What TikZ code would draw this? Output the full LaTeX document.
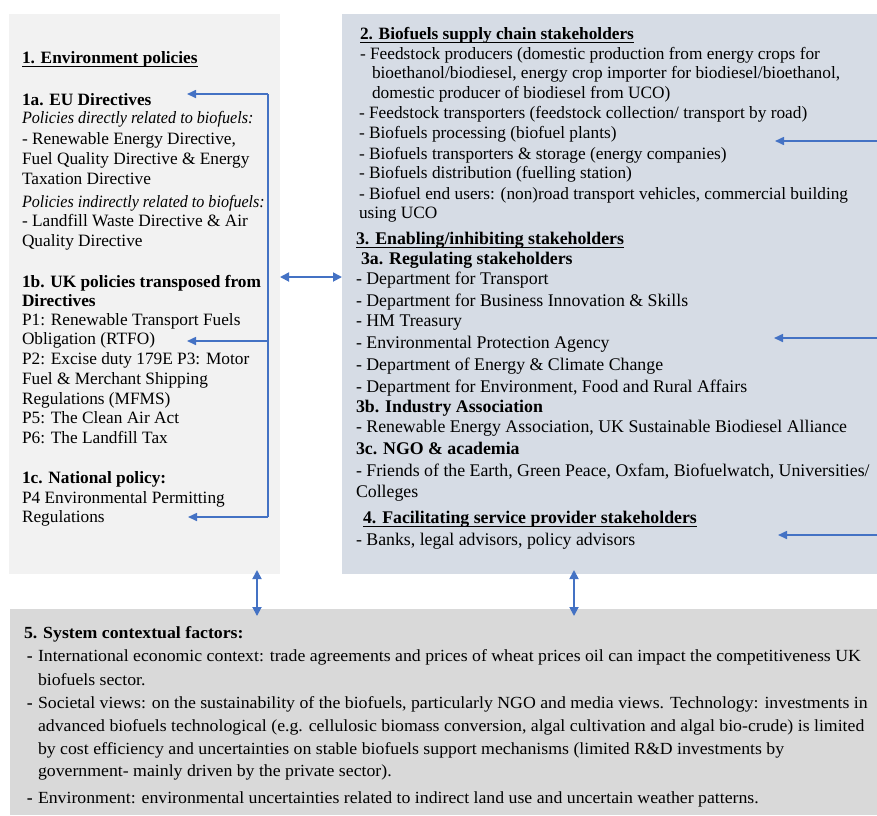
\documentclass[tikz,border=0pt]{standalone}
\usepackage{fontspec}
\setmainfont{Liberation Serif}
\newfontfamily\botfont{Liberation Serif}[FakeStretch=1.045]
\usetikzlibrary{arrows.meta,calc}
\definecolor{boxA}{HTML}{F2F2F2}
\definecolor{boxB}{HTML}{D6DCE5}
\definecolor{boxC}{HTML}{D9D9D9}
\definecolor{arr}{HTML}{4472C4}
\begin{document}
\begin{tikzpicture}[x=1pt,y=-1pt,
  panel/.style={anchor=north west,inner sep=0pt,outer sep=0pt,draw=none},
  txt/.style={anchor=base west,inner sep=0pt,outer sep=0pt,font=\fontsize{17.3}{20}\selectfont},
  txtl/.style={txt,font=\fontsize{17.8}{20}\selectfont},
  btxt/.style={anchor=base west,inner sep=0pt,outer sep=0pt,font=\botfont\fontsize{17}{20}\selectfont},
  ul/.style={line width=0.9pt,black},
  link/.style={draw=arr,line width=1.6pt,-{Triangle[length=9pt,width=8pt]}},
  dlink/.style={draw=arr,line width=1.8pt,{Triangle[length=9pt,width=9pt]}-{Triangle[length=9pt,width=9pt]}},
  brace/.style={draw=arr,line width=1.6pt}]
\useasboundingbox (0,0) rectangle (877,815);
% panels
\node[panel,fill=boxA,minimum width=271pt,minimum height=560pt] (box1) at (9,14) {};
\node[panel,fill=boxB,minimum width=535pt,minimum height=560pt] (box2) at (342,14) {};
\node[panel,fill=boxC,minimum width=867pt,minimum height=206pt] (box5) at (10,609) {};
% left panel text
\foreach \ty/\tx [count=\i] in {
  63/{\textbf{1. Environment policies}},
  105/{\textbf{1a. EU Directives}},
  123/{\scalebox{0.935}[1]{\textit{Policies directly related to biofuels:}}},
  144/{- Renewable Energy Directive,},
  164/{Fuel Quality Directive \& Energy},
  184/{Taxation Directive},
  207/{\scalebox{0.93}[1]{\textit{Policies indirectly related to biofuels:}}},
  226/{- Landfill Waste Directive \& Air},
  246/{Quality Directive},
  287/{\textbf{1b. UK policies transposed from}},
  306/{\textbf{Directives}},
  325/{P1: Renewable Transport Fuels},
  344/{Obligation (RTFO)},
  364/{P2: Excise duty 179E P3: Motor},
  384/{Fuel \& Merchant Shipping},
  404/{Regulations (MFMS)},
  423/{P5: The Clean Air Act},
  443/{P6: The Landfill Tax},
  483/{\textbf{1c. National policy:}},
  503/{P4 Environmental Permitting},
  522/{Regulations}}
  {\node[txt] (L\i) at (22,\ty) {\tx};}
\draw[ul] ([yshift=-3.6pt]L1.base west) -- ([yshift=-3.6pt]L1.base east);
% right panel text: section 2
\foreach \tX/\ty/\tx [count=\i] in {
  360/39/{\textbf{2. Biofuels supply chain stakeholders}},
  360/59/{- Feedstock producers (domestic production from energy crops for},
  372/78/{bioethanol/biodiesel, energy crop importer for biodiesel/bioethanol,},
  372/98/{domestic producer of biodiesel from UCO)},
  359/118/{- Feedstock transporters (feedstock collection/ transport by road)},
  359/138/{- Biofuels processing (biofuel plants)},
  359/159/{- Biofuels transporters \& storage (energy companies)},
  359/178/{- Biofuels distribution (fuelling station)},
  359/199/{- Biofuel end users: (non)road transport vehicles, commercial building},
  359/218/{using UCO}}
  {\node[txt] (R\i) at (\tX,\ty) {\tx};}
% right panel text: sections 3 and 4
\foreach \tX/\ty/\tx [count=\i] in {
  356/244/{\textbf{3. Enabling/inhibiting stakeholders}},
  361/264/{\textbf{3a. Regulating stakeholders}},
  356/284/{- Department for Transport},
  356/306/{- Department for Business Innovation \& Skills},
  356/326/{- HM Treasury},
  356/348/{- Environmental Protection Agency},
  356/370/{- Department of Energy \& Climate Change},
  356/392/{- Department for Environment, Food and Rural Affairs},
  356/412/{\textbf{3b. Industry Association}},
  356/432/{- Renewable Energy Association, UK Sustainable Biodiesel Alliance},
  356/454/{\textbf{3c. NGO \& academia}},
  356/476/{- Friends of the Earth, Green Peace, Oxfam, Biofuelwatch, Universities/},
  356/497/{Colleges},
  363/523/{\textbf{4. Facilitating service provider stakeholders}},
  356/545/{- Banks, legal advisors, policy advisors}}
  {\node[txtl] (S\i) at (\tX,\ty) {\tx};}
\foreach \n in {R1,S1,S14}
  {\draw[ul] ([yshift=-3.6pt]\n.base west) -- ([yshift=-3.6pt]\n.base east);}
% bottom panel text
\node[btxt] (B0) at (24,638) {\textbf{5. System contextual factors:}};
\foreach \tX/\ty/\tx [count=\i] in {
  38/661/{International economic context: trade agreements and prices of wheat prices oil can impact the competitiveness UK},
  38/685/{biofuels sector.},
  38/708/{Societal views: on the sustainability of the biofuels, particularly NGO and media views. Technology: investments in},
  38/731/{advanced biofuels technological (e.g. cellulosic biomass conversion, algal cultivation and algal bio-crude) is limited},
  38/754/{by cost efficiency and uncertainties on stable biofuels support mechanisms (limited R\&D investments by},
  38/776/{government- mainly driven by the private sector).},
  38/803/{Environment: environmental uncertainties related to indirect land use and uncertain weather patterns.}}
  {\node[btxt] (B\i) at (\tX,\ty) {\tx};}
\foreach \ty [count=\i] in {661,708,803}
  {\node[btxt] (D\i) at (27,\ty) {\textbf{-}};}
% bracket in left panel
\coordinate (bt) at (268,94);
\coordinate (bm) at (268,341);
\coordinate (bb) at (268,517);
\coordinate (t1) at (187,94);
\coordinate (t2) at (187,341);
\coordinate (t3) at (188,517);
\draw[brace] (bt) -- (bb);
\draw[link] (bt) -- (t1);
\draw[link] (bm) -- (t2);
\draw[link] (bb) -- (t3);
% arrows entering the right panel from the right
\coordinate (s1) at (877,141);
\coordinate (e1) at (775,141);
\coordinate (s2) at (877,338);
\coordinate (e2) at (774,338);
\coordinate (s3) at (877,535);
\coordinate (e3) at (778,535);
\draw[link] (s1) -- (e1);
\draw[link] (s2) -- (e2);
\draw[link] (s3) -- (e3);
% double arrows between panels
\coordinate (h1) at (box1.east |- 0,277);
\coordinate (h2) at (box2.west |- 0,277);
\draw[dlink] (h1) -- (h2);
\coordinate (v1a) at (257,570);
\coordinate (v1b) at (257,616);
\coordinate (v2a) at (574,570);
\coordinate (v2b) at (574,616);
\draw[dlink] (v1a) -- (v1b);
\draw[dlink] (v2a) -- (v2b);
\end{tikzpicture}
\end{document}
